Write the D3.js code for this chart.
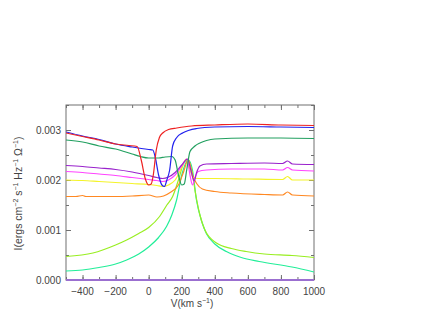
<!DOCTYPE html>
<html>
<head>
<meta charset="utf-8">
<script src="https://cdn.jsdelivr.net/npm/d3@7"></script>
<style>
  body { margin: 0; background: #fff; }
  svg text { font-family: "Liberation Sans", Arial, sans-serif; fill: #444; }
</style>
</head>
<body>
<svg id="chart"></svg>
<script>
// intensity profiles, [velocity km/s, intensity]
var redLine = [[-500,0.00294],[-400,0.00287],[-300,0.0028],[-200,0.00272],[-120,0.00269],[-70,0.00267],[-45,0.0024],[-20,0.00202],[0,0.0019],[15,0.00192],[28,0.0021],[46,0.0026],[65,0.00285],[85,0.00294],[120,0.00301],[170,0.00304],[260,0.00308],[400,0.0031],[600,0.00312],[800,0.0031],[1000,0.00309]];
var blueLine = [[-500,0.00296],[-400,0.00288],[-300,0.00281],[-200,0.00272],[-100,0.00266],[0,0.00261],[25,0.0026],[40,0.00245],[60,0.0021],[80,0.0019],[95,0.00187],[110,0.002],[127,0.0022],[145,0.00268],[170,0.00285],[205,0.00294],[290,0.00303],[400,0.00306],[600,0.00307],[800,0.00306],[1000,0.00305]];
var greenLine = [[-500,0.0028],[-400,0.00276],[-300,0.00268],[-200,0.00262],[-100,0.00252],[-50,0.00247],[0,0.00244],[60,0.00244],[100,0.00246],[140,0.00247],[160,0.0024],[180,0.0021],[200,0.0019],[215,0.00192],[230,0.0022],[250,0.00257],[280,0.00268],[310,0.00274],[350,0.00279],[400,0.00282],[600,0.00284],[800,0.00284],[1000,0.00283]];
var purpleLine = [[-500,0.00229],[-400,0.00227],[-300,0.00224],[-200,0.00221],[-100,0.00216],[0,0.00209],[50,0.00205],[85,0.00203],[120,0.00206],[160,0.00215],[200,0.0023],[235,0.00242],[255,0.0022],[275,0.00198],[290,0.00215],[310,0.00228],[350,0.00232],[500,0.00233],[700,0.00234],[810,0.00233],[840,0.00238],[870,0.00232],[1000,0.00231]];
var magentaLine = [[-500,0.00217],[-400,0.00215],[-300,0.00212],[-200,0.00209],[-100,0.00205],[0,0.00201],[50,0.00199],[85,0.00197],[120,0.002],[160,0.0021],[200,0.00228],[232,0.00242],[250,0.0021],[265,0.0019],[280,0.00205],[300,0.00217],[350,0.0022],[500,0.00222],[700,0.00222],[810,0.0022],[840,0.00225],[870,0.0022],[1000,0.00218]];
var yellowLine = [[-500,0.002],[-400,0.00199],[-300,0.00197],[-200,0.00195],[-100,0.00193],[0,0.00191],[50,0.00189],[85,0.00187],[120,0.0019],[160,0.002],[200,0.00225],[228,0.00242],[250,0.0022],[270,0.00205],[300,0.00203],[400,0.00203],[600,0.00202],[810,0.00201],[840,0.00207],[870,0.002],[1000,0.002]];
var orangeLine = [[-500,0.00167],[-440,0.00167],[-400,0.00169],[-380,0.00167],[-200,0.00167],[-100,0.00168],[0,0.0017],[50,0.00166],[90,0.00168],[130,0.00175],[180,0.0019],[210,0.00215],[240,0.00241],[265,0.0021],[290,0.00193],[325,0.00182],[400,0.00177],[500,0.00174],[700,0.00171],[810,0.0017],[840,0.00176],[870,0.0017],[1000,0.00168]];
var limeLine = [[-500,0.00047],[-337,0.00054],[-200,0.0007],[-133,0.0008],[-60,0.00093],[0,0.00105],[66,0.00127],[110,0.0015],[145,0.00167],[180,0.002],[210,0.00232],[235,0.0024],[260,0.0022],[285,0.0017],[310,0.0013],[340,0.001],[410,0.00074],[500,0.00063],[590,0.00057],[700,0.00052],[867,0.00049],[1000,0.00045]];
var springLine = [[-500,0.00018],[-400,0.0002],[-300,0.00025],[-200,0.00032],[-133,0.0004],[-60,0.00052],[0,0.00066],[60,0.00085],[108,0.00107],[140,0.0013],[169,0.0016],[200,0.0021],[240,0.0024],[265,0.0022],[289,0.0016],[320,0.00118],[349,0.00093],[400,0.00072],[470,0.00057],[560,0.00045],[669,0.00037],[867,0.00026],[1000,0.00016]];
var baseLine = [[-500,0],[0,0],[500,0],[1000,0]];

var seriesData = [baseLine, springLine, limeLine, orangeLine, yellowLine, magentaLine, purpleLine, greenLine, blueLine, redLine];
var seriesColors = ['#9b6fd0', '#22ee99', '#99ee22', '#ff8822', '#f4f42a', '#ff44ff', '#9922cc', '#22a060', '#2222ee', '#ee2222'];

var xTicks = [-400, -200, 0, 200, 400, 600, 800, 1000];
var xTickLabels = ['\u2212400', '\u2212200', '0', '200', '400', '600', '800', '1000'];
var yTicks = [0, 0.001, 0.002, 0.003];
var yTickLabels = ['0.000', '0.001', '0.002', '0.003'];

var canvasWidth = 442;
var canvasHeight = 329;
var margin = {top: 105, right: 128, bottom: 49, left: 66};
var width = canvasWidth - margin.left - margin.right;
var height = canvasHeight - margin.top - margin.bottom;

var svg = d3.select('#chart')
  .attr('width', canvasWidth)
  .attr('height', canvasHeight);
var g = svg.append('g')
  .attr('transform', 'translate(' + margin.left + ',' + margin.top + ')');

var xScale = d3.scaleLinear().domain([-500, 1000]).range([0, width]);
var yScale = d3.scaleLinear().domain([0, 0.0035]).range([height, 0]);

g.append('clipPath').attr('id', 'clip')
  .append('rect').attr('x', 0).attr('y', -1).attr('width', width).attr('height', height + 2);

var line = d3.line()
  .x(function(d) { return xScale(d[0]); })
  .y(function(d) { return yScale(d[1]); })
  .curve(d3.curveMonotoneX);

// frame + ticks
var frameColor = '#707070';
function tickAxis(axis, scale, major, minor, translate) {
  var a = g.append('g').attr('transform', translate || null);
  a.call(axis(scale).tickValues(minor).tickSize(3).tickFormat(''));
  a.select('.domain').remove();
  var b = g.append('g').attr('transform', translate || null);
  b.call(axis(scale).tickValues(major).tickSize(5).tickFormat(''));
  b.select('.domain').remove();
  a.selectAll('line').attr('stroke', frameColor);
  b.selectAll('line').attr('stroke', frameColor);
}
var xMinor = d3.range(-500, 1001, 100);
var yMinor = d3.range(0, 0.0036, 0.0005);
tickAxis(d3.axisTop, xScale, xTicks, xMinor, 'translate(0,' + height + ')');
tickAxis(d3.axisBottom, xScale, xTicks, xMinor, null);
tickAxis(d3.axisRight, yScale, yTicks, yMinor, null);
tickAxis(d3.axisLeft, yScale, yTicks, yMinor, 'translate(' + width + ',0)');

g.append('rect')
  .attr('width', width).attr('height', height)
  .attr('fill', 'none').attr('stroke', frameColor).attr('stroke-width', 1);

g.append('g').attr('clip-path', 'url(#clip)')
  .selectAll('path')
  .data(seriesData)
  .enter().append('path')
  .attr('d', line)
  .attr('fill', 'none')
  .attr('stroke', function(d, i) { return seriesColors[i]; })
  .attr('stroke-width', function(d, i) { return i === 0 ? 2 : 1.2; });

// tick labels
g.selectAll('.xlab')
  .data(xTicks)
  .enter().append('text')
  .attr('class', 'xlab')
  .attr('x', function(d) { return xScale(d); })
  .attr('y', height + 15)
  .attr('text-anchor', 'middle')
  .style('font-size', '10px')
  .text(function(d, i) { return xTickLabels[i]; });

g.selectAll('.ylab')
  .data(yTicks)
  .enter().append('text')
  .attr('class', 'ylab')
  .attr('x', -5)
  .attr('y', function(d) { return yScale(d) + 3.5; })
  .attr('text-anchor', 'end')
  .style('font-size', '10px')
  .text(function(d, i) { return yTickLabels[i]; });

// axis titles
var xt = svg.append('text')
  .attr('x', margin.left + width / 2 + 2)
  .attr('y', 307)
  .attr('text-anchor', 'middle')
  .style('font-size', '10px');
xt.append('tspan').text('V(km s');
xt.append('tspan').attr('dy', -4).style('font-size', '7px').text('\u22121');
xt.append('tspan').attr('dy', 4).text(')');

var yt = svg.append('text')
  .attr('transform', 'translate(22,' + (margin.top + height / 2 + 1) + ') rotate(-90)')
  .attr('text-anchor', 'middle')
  .style('font-size', '10.5px');
var parts = [['I(ergs cm', '\u22122'], [' s', '\u22121'], [' Hz', '\u22121'], [' \u03a9', '\u22121']];
parts.forEach(function(p, i) {
  yt.append('tspan').attr('dy', i === 0 ? 0 : 4).text(p[0]);
  yt.append('tspan').attr('dy', -4).style('font-size', '7px').text(p[1]);
});
yt.append('tspan').attr('dy', 4).text(')');
</script>
</body>
</html>
